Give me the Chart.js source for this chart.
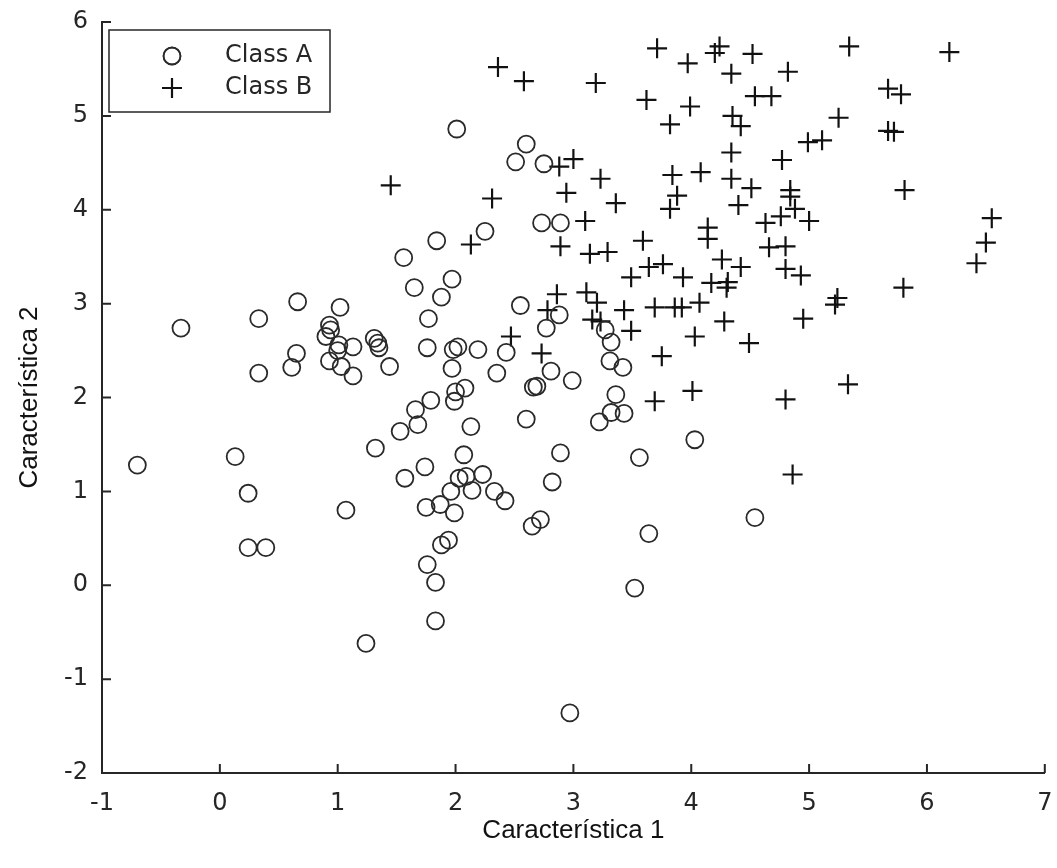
<!DOCTYPE html>
<html>
<head>
<meta charset="utf-8">
<script src="https://cdn.jsdelivr.net/npm/chart.js@4"></script>
<style>
    body { margin: 0; background: #fff; }
    #grafico { display: block; }
</style>
</head>
<body>
<canvas id="grafico" width="1057" height="868"></canvas>
<script>
// Clase A (circulos)
const claseA_x = [-0.70, -0.33, 0.13, 0.24, 0.24, 0.39, 0.33, 0.33, 0.61, 0.65, 0.66, 0.93, 0.94, 0.90, 1.01,
    1.13, 1.00, 0.93, 1.03, 1.13, 1.02, 1.31, 1.34, 1.35, 1.44, 1.07, 1.24, 1.32, 1.53, 1.57,
    1.56, 1.65, 1.66, 1.68, 1.74, 1.75, 1.76, 1.83, 1.83, 1.88, 1.94, 1.87, 1.99, 1.96, 2.03,
    2.09, 2.23, 2.14, 2.33, 2.42, 2.07, 2.13, 1.79, 1.99, 2.00, 2.08, 1.97, 1.76, 1.98, 2.02,
    2.19, 2.43, 2.35, 1.77, 1.88, 1.97, 1.84, 2.25, 2.01, 2.60, 2.51, 2.75, 2.73, 2.89, 2.55,
    2.88, 2.77, 2.81, 2.99, 2.66, 2.69, 2.60, 2.89, 2.82, 2.72, 2.65, 2.97, 3.27, 3.32, 3.31,
    3.42, 3.36, 3.32, 3.43, 3.22, 3.56, 3.64, 3.52, 4.03, 4.54];
const claseA_y = [1.28, 2.74, 1.37, 0.98, 0.40, 0.40, 2.84, 2.26, 2.32, 2.47, 3.02, 2.77, 2.72, 2.65, 2.56,
    2.54, 2.50, 2.39, 2.33, 2.23, 2.96, 2.63, 2.58, 2.53, 2.33, 0.80, -0.62, 1.46, 1.64, 1.14,
    3.49, 3.17, 1.87, 1.71, 1.26, 0.83, 0.22, 0.03, -0.38, 0.43, 0.48, 0.86, 0.77, 1.00, 1.14,
    1.16, 1.18, 1.01, 1.00, 0.90, 1.39, 1.69, 1.97, 1.96, 2.06, 2.10, 2.31, 2.53, 2.51, 2.54,
    2.51, 2.48, 2.26, 2.84, 3.07, 3.26, 3.67, 3.77, 4.86, 4.70, 4.51, 4.49, 3.86, 3.86, 2.98,
    2.88, 2.74, 2.28, 2.18, 2.11, 2.12, 1.77, 1.41, 1.10, 0.70, 0.63, -1.36, 2.72, 2.59, 2.39,
    2.32, 2.03, 1.84, 1.83, 1.74, 1.36, 0.55, -0.03, 1.55, 0.72];

// Clase B (cruces)
const claseB_x = [1.45, 2.36, 2.58, 3.19, 3.71, 3.97, 4.20, 4.24, 4.34, 3.62, 3.99, 3.82, 4.35, 4.42, 4.34,
    2.88, 3.00, 3.23, 3.84, 4.08, 4.34, 2.94, 3.36, 3.88, 3.82, 2.31, 2.13, 3.10, 3.59, 4.14,
    4.14, 2.89, 3.14, 3.29, 4.26, 3.64, 3.76, 3.49, 3.93, 4.17, 4.31, 4.30, 2.86, 3.11, 3.20,
    2.78, 3.43, 3.69, 3.86, 3.92, 4.07, 3.16, 3.23, 3.49, 4.28, 4.03, 2.47, 2.73, 3.75, 4.01,
    3.69, 4.52, 5.34, 6.19, 4.82, 4.54, 4.68, 5.67, 5.78, 5.25, 4.99, 5.11, 5.67, 5.72, 4.77,
    5.81, 4.84, 4.84, 4.88, 4.76, 4.63, 5.00, 4.51, 4.40, 4.66, 4.80, 4.42, 4.80, 4.93, 6.55,
    6.50, 6.42, 5.80, 5.24, 5.22, 4.95, 4.49, 5.33, 4.80, 4.86];
const claseB_y = [4.26, 5.52, 5.37, 5.35, 5.72, 5.56, 5.67, 5.74, 5.45, 5.17, 5.10, 4.91, 5.00, 4.89, 4.61,
    4.46, 4.54, 4.33, 4.37, 4.40, 4.33, 4.18, 4.07, 4.15, 4.01, 4.12, 3.63, 3.88, 3.67, 3.81,
    3.69, 3.61, 3.53, 3.55, 3.47, 3.39, 3.42, 3.28, 3.28, 3.22, 3.23, 3.17, 3.10, 3.12, 3.01,
    2.93, 2.93, 2.96, 2.96, 2.96, 3.01, 2.83, 2.81, 2.71, 2.81, 2.65, 2.65, 2.47, 2.44, 2.07,
    1.96, 5.66, 5.74, 5.68, 5.47, 5.21, 5.21, 5.29, 5.23, 4.98, 4.72, 4.74, 4.84, 4.83, 4.53,
    4.21, 4.21, 4.14, 4.01, 3.93, 3.86, 3.88, 4.23, 4.05, 3.60, 3.61, 3.39, 3.37, 3.30, 3.91,
    3.65, 3.43, 3.17, 3.06, 2.99, 2.84, 2.58, 2.14, 1.98, 1.18];

const etiquetas = ['Class A', 'Class B'];
const ticksX = [-1, 0, 1, 2, 3, 4, 5, 6, 7];
const ticksY = [-2, -1, 0, 1, 2, 3, 4, 5, 6];
const tituloX = 'Característica 1';
const tituloY = 'Característica 2';

function juntar(xs, ys) {
    return xs.map((x, i) => ({ x: x, y: ys[i] }));
}

const colorEje = '#262626';
const fuenteTicks = { family: 'DejaVu Sans', size: 24 };
const fuenteTitulo = { family: 'Liberation Sans, Arial, sans-serif', size: 26 };

// marcas hacia adentro + leyenda con caja (como en matlab)
const extras = {
    id: 'extras',
    afterDatasetsDraw(chart) {
        const ctx = chart.ctx;
        const area = chart.chartArea;
        const sx = chart.scales.x, sy = chart.scales.y;
        ctx.save();
        ctx.strokeStyle = colorEje;
        ctx.lineWidth = 2;
        ctx.beginPath();
        ticksX.forEach(v => {
            const px = sx.getPixelForValue(v);
            ctx.moveTo(px, area.bottom);
            ctx.lineTo(px, area.bottom - 9);
        });
        ticksY.forEach(v => {
            const py = sy.getPixelForValue(v);
            ctx.moveTo(area.left, py);
            ctx.lineTo(area.left + 9, py);
        });
        ctx.stroke();

        // leyenda
        const bx = area.left + 7, by = area.top + 8, bw = 221, bh = 82;
        ctx.fillStyle = '#fff';
        ctx.fillRect(bx, by, bw, bh);
        ctx.lineWidth = 1.5;
        ctx.strokeStyle = colorEje;
        ctx.strokeRect(bx, by, bw, bh);
        chart.data.datasets.forEach((ds, i) => {
            const cy = by + 26 + i * 32;
            Chart.helpers.drawPoint(ctx, {
                pointStyle: ds.pointStyle,
                radius: ds.pointRadius,
                borderWidth: ds.borderWidth,
                rotation: 0
            }, bx + 63, cy);
            ctx.strokeStyle = ds.borderColor;
            ctx.lineWidth = ds.borderWidth;
            ctx.stroke();
            ctx.fillStyle = '#262626';
            ctx.font = '24px "DejaVu Sans"';
            ctx.textBaseline = 'middle';
            ctx.textAlign = 'left';
            ctx.fillText(ds.label, bx + 116, cy);
        });
        ctx.restore();
    }
};

const ctx = document.getElementById('grafico').getContext('2d');
const grafico = new Chart(ctx, {
    type: 'scatter',
    data: {
        datasets: [{
            label: etiquetas[0],
            data: juntar(claseA_x, claseA_y),
            pointStyle: 'circle',
            pointRadius: 8.5,
            borderWidth: 1.8,
            borderColor: '#2a2a2a',
            backgroundColor: 'rgba(0,0,0,0)'
        }, {
            label: etiquetas[1],
            data: juntar(claseB_x, claseB_y),
            pointStyle: 'cross',
            pointRadius: 10,
            borderWidth: 2.2,
            borderColor: '#111',
            backgroundColor: 'rgba(0,0,0,0)'
        }]
    },
    options: {
        responsive: false,
        animation: false,
        layout: { padding: { left: 0, right: -6, top: 22, bottom: 0 } },
        plugins: {
            legend: { display: false },
            tooltip: { enabled: false }
        },
        scales: {
            x: {
                type: 'linear',
                min: -1,
                max: 7,
                afterBuildTicks: s => { s.ticks = ticksX.map(v => ({ value: v })); },
                afterFit: s => { s.height = 95; s.paddingLeft = 0; s.paddingRight = 0; },
                grid: { display: false, drawTicks: false },
                border: { display: true, color: colorEje, width: 2 },
                ticks: { color: '#262626', font: fuenteTicks, padding: 16, maxRotation: 0 },
                title: { display: true, text: tituloX, color: '#111', font: fuenteTitulo, padding: { top: 0, bottom: 22 } }
            },
            y: {
                type: 'linear',
                min: -2,
                max: 6,
                afterBuildTicks: s => { s.ticks = ticksY.map(v => ({ value: v })); },
                afterFit: s => { s.width = 102; s.paddingTop = 0; s.paddingBottom = 0; },
                grid: { display: false, drawTicks: false },
                border: { display: true, color: colorEje, width: 2 },
                ticks: { color: '#262626', font: fuenteTicks, padding: 14 },
                title: { display: true, text: tituloY, color: '#111', font: fuenteTitulo, padding: { top: 14, bottom: 0 } }
            }
        }
    },
    plugins: [extras]
});
</script>
</body>
</html>
